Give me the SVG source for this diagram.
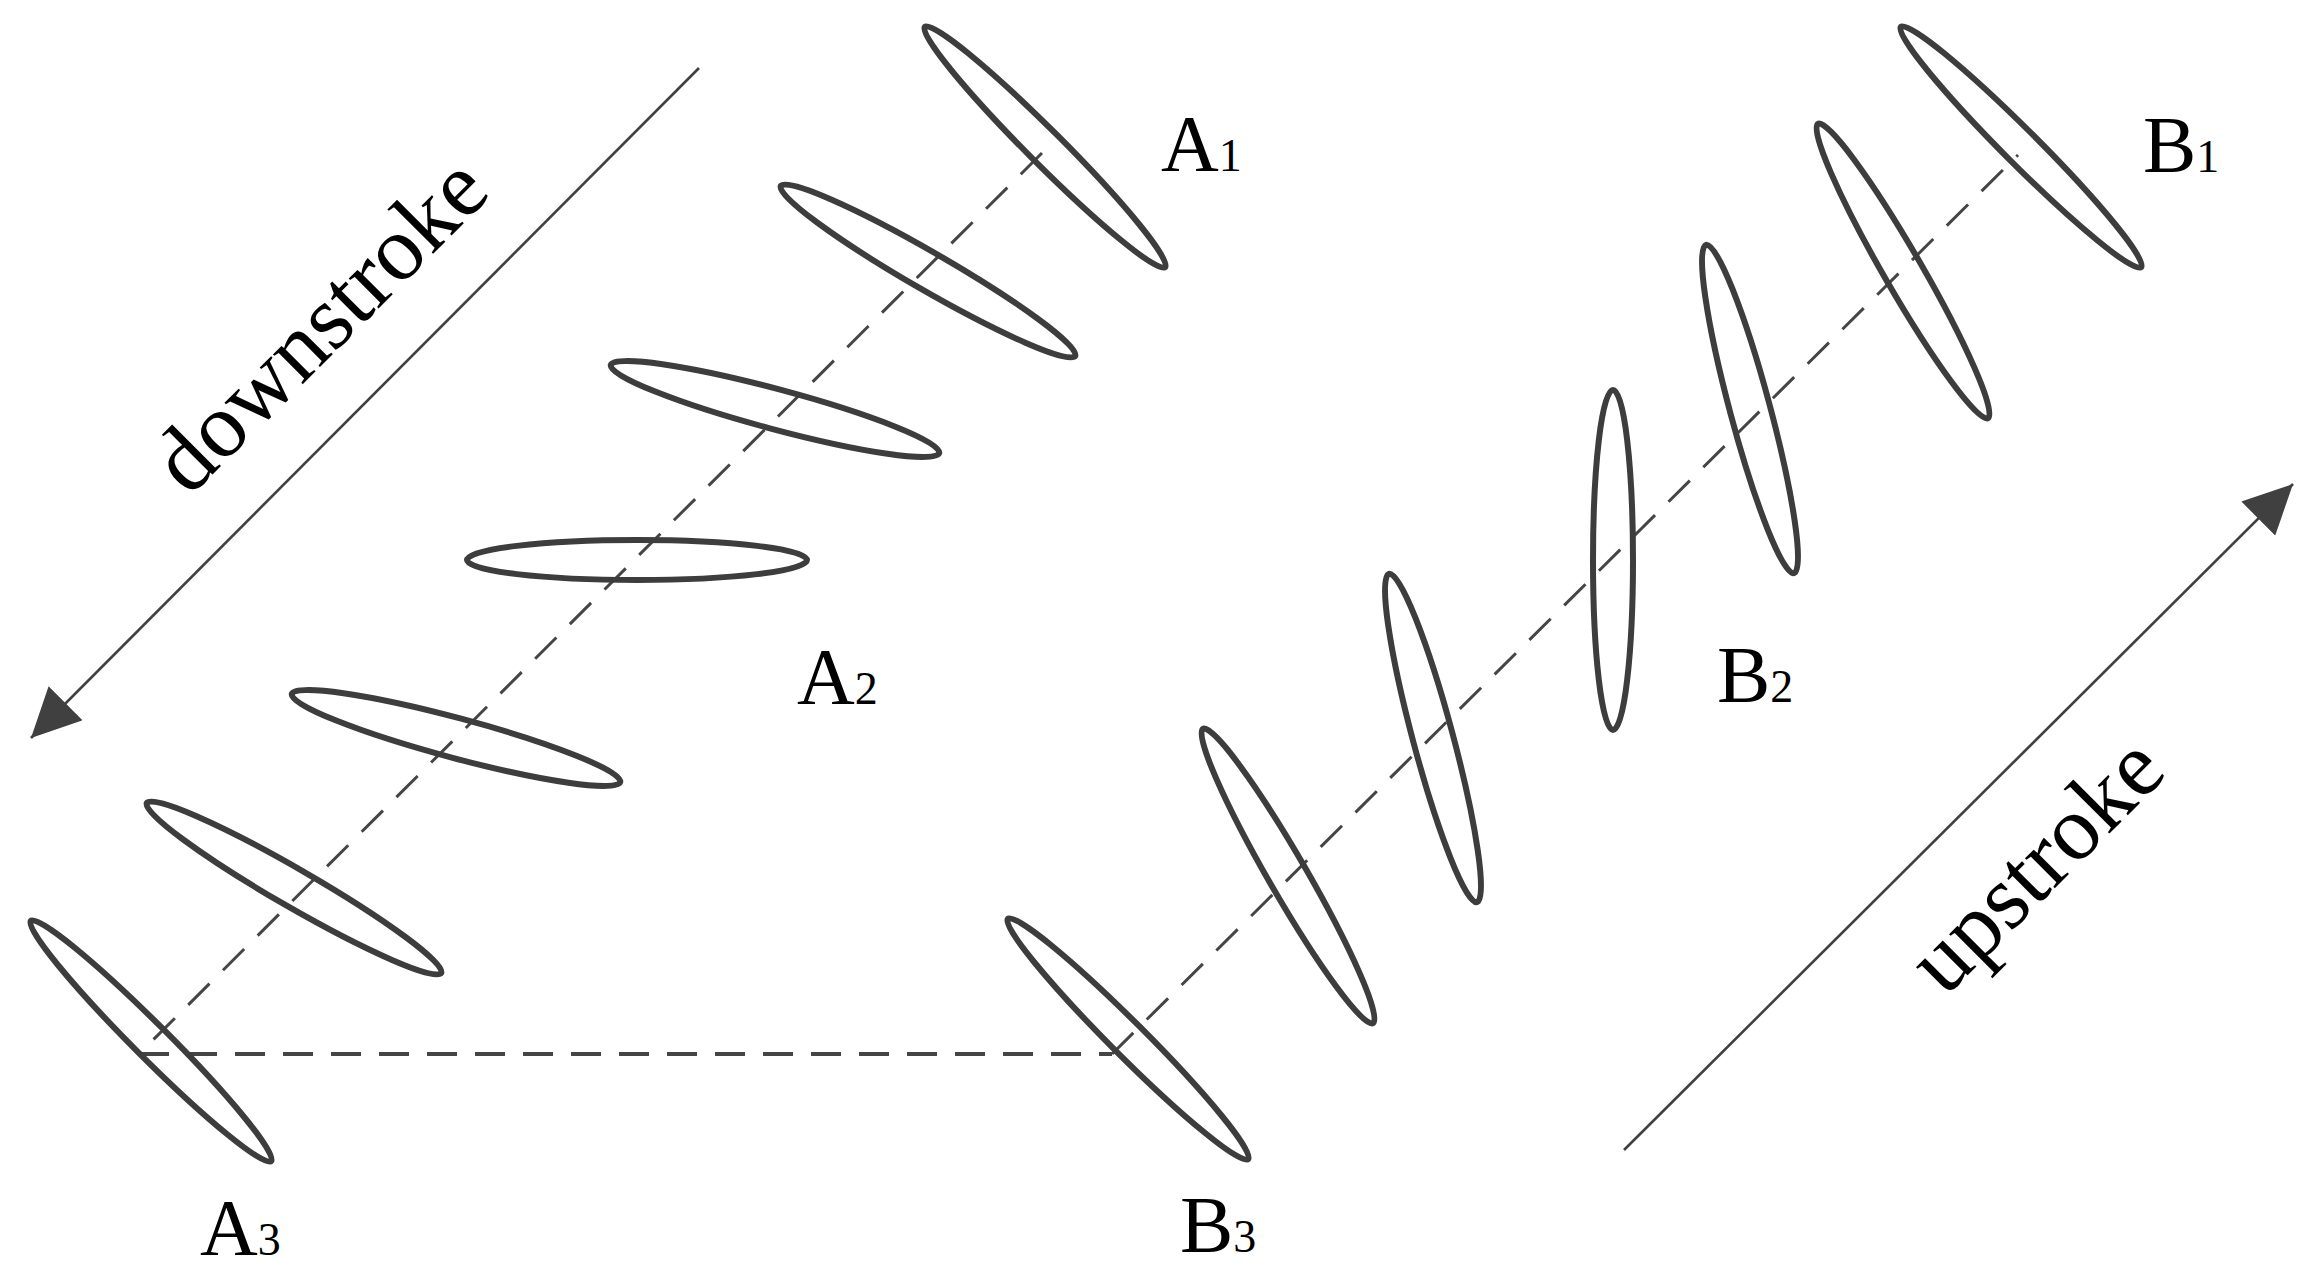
<svg xmlns="http://www.w3.org/2000/svg" width="2314" height="1277" viewBox="0 0 2314 1277">
<style>
.el{fill:none;stroke:#3d3d3d;stroke-width:6}
.dashd{fill:none;stroke:#454545;stroke-width:3;stroke-dasharray:30 19}
.dashh{fill:none;stroke:#454545;stroke-width:4;stroke-dasharray:30 18}
.arr{fill:none;stroke:#404040;stroke-width:2.6;marker-end:url(#ah)}
.lbl{font-family:"Liberation Serif","Times New Roman",serif;font-size:80px;fill:#000}
.sub{font-size:46px}
.dir{font-family:"Liberation Serif","Times New Roman",serif;font-size:92px;fill:#000;text-anchor:middle}
</style>
<defs>
<marker id="ah" markerUnits="userSpaceOnUse" viewBox="0 0 50 48" markerWidth="50" markerHeight="48" refX="49" refY="24" orient="auto">
<path d="M0,0 L49,24 L0,48 Z" fill="#404040"/>
</marker>
</defs>
<rect width="2314" height="1277" fill="#fff"/>
<g id="connectors">
<path class="dashd" d="M1042,153 L139,1054"/>
<path class="dashh" d="M139,1054 L1112,1054"/>
<path class="dashd" d="M1112,1054 L2018,155"/>
<path class="arr" d="M699,68 L31,738"/>
<path class="arr" d="M1624,1150 L2293,484"/>
</g>
<g id="A1"><ellipse class="el" cx="0" cy="0" rx="170" ry="17" transform="translate(1045,147) rotate(45)"/><text class="lbl" x="1161" y="171">A<tspan class="sub">1</tspan></text></g>
<g id="A1b"><ellipse class="el" cx="0" cy="0" rx="170" ry="19" transform="translate(928,271) rotate(30)"/></g>
<g id="A1c"><ellipse class="el" cx="0" cy="0" rx="170" ry="20" transform="translate(775,409) rotate(15)"/></g>
<g id="A2"><ellipse class="el" cx="0" cy="0" rx="170" ry="20" transform="translate(637,560)"/><text class="lbl" x="797" y="704">A<tspan class="sub">2</tspan></text></g>
<g id="A2b"><ellipse class="el" cx="0" cy="0" rx="170" ry="20" transform="translate(456,738) rotate(15)"/></g>
<g id="A2c"><ellipse class="el" cx="0" cy="0" rx="170" ry="19" transform="translate(294,888) rotate(30)"/></g>
<g id="A3"><ellipse class="el" cx="0" cy="0" rx="170" ry="17" transform="translate(151,1041) rotate(45)"/><text class="lbl" x="200" y="1255">A<tspan class="sub">3</tspan></text></g>
<g id="B1"><ellipse class="el" cx="0" cy="0" rx="170" ry="17" transform="translate(2021,147) rotate(45)"/><text class="lbl" x="2143" y="172">B<tspan class="sub">1</tspan></text></g>
<g id="B1b"><ellipse class="el" cx="0" cy="0" rx="170" ry="19" transform="translate(1903,271) rotate(60)"/></g>
<g id="B1c"><ellipse class="el" cx="0" cy="0" rx="170" ry="20" transform="translate(1750,409) rotate(75)"/></g>
<g id="B2"><ellipse class="el" cx="0" cy="0" rx="170" ry="20" transform="translate(1613,560) rotate(90)"/><text class="lbl" x="1717" y="702">B<tspan class="sub">2</tspan></text></g>
<g id="B2b"><ellipse class="el" cx="0" cy="0" rx="170" ry="20" transform="translate(1433,738) rotate(75)"/></g>
<g id="B2c"><ellipse class="el" cx="0" cy="0" rx="170" ry="19" transform="translate(1288,876) rotate(60)"/></g>
<g id="B3"><ellipse class="el" cx="0" cy="0" rx="170" ry="17" transform="translate(1128,1039) rotate(45)"/><text class="lbl" x="1180" y="1252">B<tspan class="sub">3</tspan></text></g>
<g id="downstroke"><text class="dir" x="341" y="346" transform="rotate(-45 341 346)">downstroke</text></g>
<g id="upstroke"><text class="dir" x="2057" y="886" transform="rotate(-45 2057 886)">upstroke</text></g>
</svg>
